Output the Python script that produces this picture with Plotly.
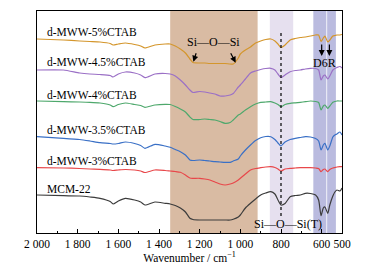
import plotly.graph_objects as go

wavenumber = [2000, 1870, 1790, 1740, 1690, 1640, 1626, 1600, 1565, 1520, 1490, 1469, 1420, 1370,
              1345, 1320, 1295, 1270, 1248, 1233, 1200, 1175, 1150, 1125, 1100, 1075, 1050, 1035,
              1010, 1000, 975, 950, 925, 900, 875, 850, 830, 815, 800, 780, 755, 730, 705, 680,
              655, 630, 615, 603, 592, 584, 570, 560, 545, 535, 525, 510, 500]

s_5 = [194, 193, 192, 191.5, 191, 189.5, 188, 189, 190, 188.5, 187, 185, 188, 189,
       189, 187, 184, 180, 174, 170.5, 170, 170, 169.5, 169.5, 169.5, 169.5, 169, 169,
       175, 179, 183, 186, 190, 192, 193.5, 194, 192, 189, 185.5, 188, 193, 194.5, 195.5, 196,
       197, 198, 198, 191.5, 195, 197, 191, 193, 197, 197.5, 198, 198, 198.5]
s_45 = [163, 163, 160, 159, 158.5, 157.5, 156, 159, 161, 160, 158, 155.3, 159, 159.5,
        159, 157, 153, 148, 143, 140.5, 141.5, 141, 140, 139, 137, 137, 138, 139.5,
        146, 148, 154, 160, 162, 163.5, 164.5, 164.7, 163, 159, 155.5, 158, 161.3, 162.5, 163, 164,
        164.7, 164.5, 163, 153, 157, 158, 154, 157, 163, 164.5, 165.5, 166.5, 165]
s_4 = [132, 131.3, 131, 130.7, 130, 128, 126.3, 128.5, 130, 128.5, 127.5, 125.7, 128, 128.7,
       128.5, 126.5, 124, 121, 116, 113.5, 113.5, 114, 113.5, 113, 111.5, 109.7, 110.5, 113,
       118, 119, 123, 126.3, 129, 130.7, 131, 131.3, 130, 128.5, 126.3, 128.5, 129.7, 130.2, 130.7, 131.3,
       132, 131.5, 130.5, 123, 127, 128, 124.7, 127, 130.7, 131.5, 132, 132, 132]
s_35 = [96.3, 94.7, 93.5, 92, 90.3, 89.5, 89, 89.5, 91, 89.5, 87.5, 84.7, 88.7, 87,
        85.7, 83.5, 81.3, 78, 73, 72.5, 73, 72.5, 72, 71.3, 71, 70.7, 70.7, 72,
        74, 77, 83, 88, 92.5, 95.3, 96.5, 96.3, 93.5, 90, 87, 91, 93.5, 94.7, 95.5, 96.3,
        96, 94.5, 92, 83, 88, 89.7, 83, 87, 96, 98, 99, 101, 98]
s_3 = [65.3, 65, 64.5, 64, 63.7, 63, 62.5, 63, 63.5, 63, 62, 60.5, 63, 62.5,
       62, 61.5, 60.7, 58, 55, 54.7, 54.7, 54, 53, 51, 49, 48, 49, 50,
       53, 54.7, 59, 63, 64.5, 65.3, 66, 66.3, 65.5, 64, 62, 64, 64.7, 65, 65.3, 65.3,
       65.3, 65, 64.5, 61.3, 63.5, 64, 61.3, 63.5, 65, 65.5, 66, 66.3, 66.3]
s_mcm = [38, 37.3, 37, 36, 34.7, 31.5, 29, 32, 34.7, 33, 31, 28, 31, 29.7,
         29, 27.5, 25, 21, 14.7, 13.5, 13, 13, 13, 13, 13, 13, 13, 13.7,
         16, 18, 25, 29.7, 34, 38, 40, 41.3, 39, 33, 28, 29.5, 36.3, 37.5, 38, 39.7,
         39.5, 38, 33, 17.3, 25, 26, 19.7, 28, 37, 41, 43, 42, 45]

series_names = ["d-MWW-5%CTAB", "d-MWW-4.5%CTAB", "d-MWW-4%CTAB",
                "d-MWW-3.5%CTAB", "d-MWW-3%CTAB", "MCM-22"]
series_values = [s_5, s_45, s_4, s_35, s_3, s_mcm]
series_colors = ["#d4962c", "#9b70c6", "#4ea86c", "#3a70c6", "#e8474a", "#3c3c3c"]
label_y = [201, 171, 138, 103, 72, 44]

tick_vals = [2000, 1800, 1600, 1400, 1200, 1000, 800, 600, 500]
tick_text = ["2 000", "1 800", "1 600", "1 400", "1 200", "1 000", "800", "600", "500"]

bands = [(1345, 915, "#d9bba3"), (855, 740, "#e6e0ef"), (641, 577, "#babbdf"), (573, 530, "#babbdf")]

FONT = "Liberation Serif"

fig = go.Figure()
for name, vals, col in zip(series_names, series_values, series_colors):
    fig.add_trace(go.Scatter(x=wavenumber, y=vals, mode="lines", name=name,
                             line=dict(color=col, width=1.2, shape="spline", smoothing=0.6),
                             showlegend=False))

for x0, x1, c in bands:
    fig.add_shape(type="rect", xref="x", yref="paper", x0=x0, x1=x1, y0=0, y1=1,
                  fillcolor=c, line=dict(width=0), layer="below")

fig.add_shape(type="line", xref="x", yref="y", x0=800, x1=800, y0=200, y1=15,
              line=dict(color="black", width=1.2, dash="dot"))

for name, yv in zip(series_names, label_y):
    fig.add_annotation(x=1961, y=yv, text=name, showarrow=False, xanchor="left",
                       font=dict(family=FONT, size=11.5, color="black"))

fig.add_annotation(x=1134, y=191.3, text="Si—O—Si", showarrow=False,
                   font=dict(family=FONT, size=12, color="black"))
for (tx, ty, hx, hy) in [(1215, 181.3, 1231, 171.3), (1051, 181.3, 1023, 170.3)]:
    fig.add_annotation(x=hx, y=hy, ax=tx, ay=ty, axref="x", ayref="y", text="",
                       showarrow=True, arrowhead=2, arrowsize=1, arrowwidth=1.2, arrowcolor="black")

fig.add_annotation(x=586, y=169.7, text="D6R", showarrow=False,
                   font=dict(family=FONT, size=12, color="black"))
for xv in [600, 562]:
    fig.add_annotation(x=xv, y=177, ax=xv, ay=190, axref="x", ayref="y", text="",
                       showarrow=True, arrowhead=2, arrowsize=1, arrowwidth=1.2, arrowcolor="black")

fig.add_annotation(x=768, y=9, text="Si—O—Si(T)", showarrow=False,
                   font=dict(family=FONT, size=12, color="black"))

fig.update_xaxes(range=[2000, 500], tickmode="array", tickvals=tick_vals, ticktext=tick_text,
                 automargin=False,
                 ticks="inside", ticklen=4, tickcolor="black", showline=True, linecolor="black",
                 linewidth=1, mirror=True, showgrid=False, zeroline=False,
                 tickfont=dict(family=FONT, size=11.5, color="black"),
                 minor=dict(tickmode="linear", tick0=0, dtick=100, ticks="inside", ticklen=2,
                            tickcolor="black"),
                 title=dict(text="Wavenumber / cm<sup>−1</sup>", standoff=2,
                            font=dict(family=FONT, size=11.5, color="black")))
fig.update_yaxes(range=[0, 222], showticklabels=False, ticks="", showline=True, linecolor="black",
                 automargin=False,
                 linewidth=1, mirror=True, showgrid=False, zeroline=False)

# page body has an 8px default margin, so the figure is sized to fit the 386x274 window
fig.update_layout(width=378, height=266, margin=dict(l=29, r=44, t=3, b=41),
                  plot_bgcolor="white", paper_bgcolor="white")

fig.write_html("out.html")
